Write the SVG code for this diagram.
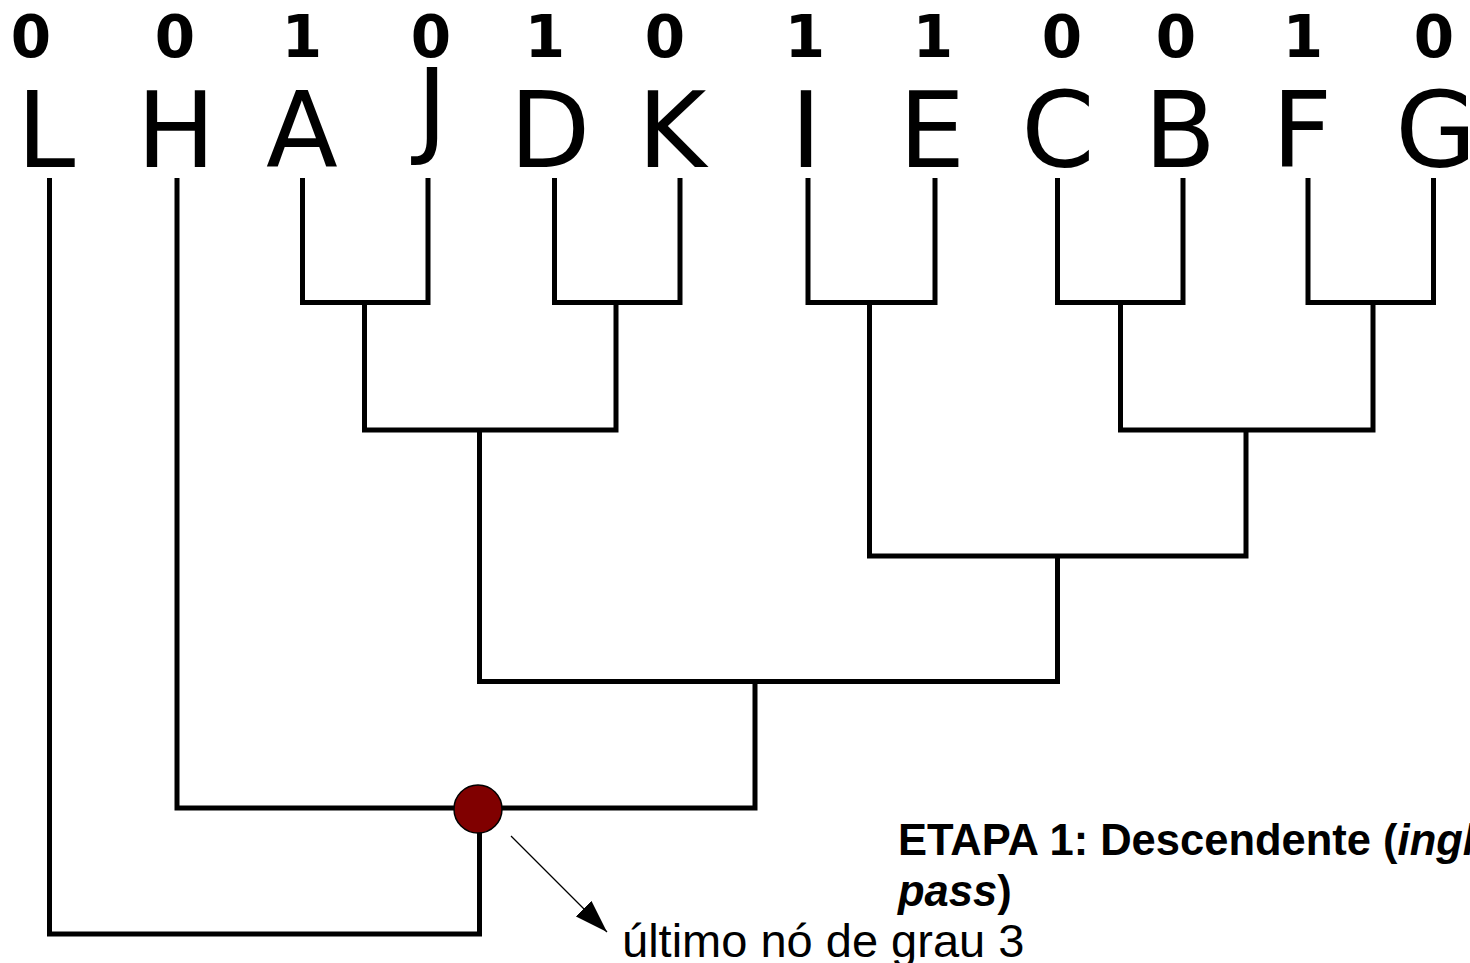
<svg xmlns="http://www.w3.org/2000/svg" width="1470" height="963" viewBox="0 0 1470 963">
<style>
.leaf{font-family:"DejaVu Sans",sans-serif;font-size:105px;fill:#000;text-anchor:middle}
.bit{font-family:"DejaVu Sans",sans-serif;font-weight:bold;font-size:58px;fill:#000;text-anchor:middle}
.edge{fill:none;stroke:#000;stroke-width:5;stroke-linejoin:miter;stroke-linecap:butt}
.note{font-family:"Liberation Sans",Arial,sans-serif;fill:#000}
</style>
<defs>
<marker id="ah" viewBox="0 0 33 22" refX="33" refY="11" markerWidth="33" markerHeight="22" markerUnits="userSpaceOnUse" orient="auto"><path d="M0,0 L33,11 L0,22 z" fill="#000"/></marker>
</defs>
<rect width="1470" height="963" fill="#fff"/>
<g id="bits">
<text class="bit" x="31" y="57">0</text>
<text class="bit" x="175" y="57">0</text>
<text class="bit" x="302" y="57">1</text>
<text class="bit" x="431" y="57">0</text>
<text class="bit" x="545" y="57">1</text>
<text class="bit" x="665" y="57">0</text>
<text class="bit" x="805" y="57">1</text>
<text class="bit" x="933" y="57">1</text>
<text class="bit" x="1062" y="57">0</text>
<text class="bit" x="1176" y="57">0</text>
<text class="bit" x="1303" y="57">1</text>
<text class="bit" x="1434" y="57">0</text>
</g>
<g id="leaf-L"><text class="leaf" x="46" y="167">L</text></g>
<g id="leaf-H"><text class="leaf" x="176" y="167">H</text></g>
<g id="leaf-A"><text class="leaf" x="302" y="167">A</text></g>
<g id="leaf-J"><text class="leaf" x="432" y="144">J</text></g>
<g id="leaf-D"><text class="leaf" x="550" y="167">D</text></g>
<g id="leaf-K"><text class="leaf" x="672" y="167">K</text></g>
<g id="leaf-I"><text class="leaf" x="806" y="167">I</text></g>
<g id="leaf-E"><text class="leaf" x="932" y="167">E</text></g>
<g id="leaf-C"><text class="leaf" x="1058" y="167">C</text></g>
<g id="leaf-B"><text class="leaf" x="1180" y="167">B</text></g>
<g id="leaf-F"><text class="leaf" x="1302" y="167">F</text></g>
<g id="leaf-G"><text class="leaf" x="1436" y="167">G</text></g>
<g id="connectors">
<path class="edge" d="M302.5 178 V302.5 H428 V178"/>
<path class="edge" d="M554.5 178 V302.5 H680 V178"/>
<path class="edge" d="M808 178 V302.5 H935 V178"/>
<path class="edge" d="M1057.5 178 V302.5 H1183 V178"/>
<path class="edge" d="M1308 178 V302.5 H1433.5 V178"/>
<path class="edge" d="M364.5 302.5 V430 H616 V302.5"/>
<path class="edge" d="M1120.5 302.5 V430 H1373 V302.5"/>
<path class="edge" d="M869.5 302.5 V556 H1246 V430"/>
<path class="edge" d="M479.5 430 V681.5 H1057.5 V556"/>
<path class="edge" d="M755 681.5 V808 H177 V178"/>
<path class="edge" d="M479.5 808 V934 H49.5 V178"/>
<line x1="511" y1="836" x2="607" y2="932" stroke="#000" stroke-width="1.3" marker-end="url(#ah)"/>
</g>
<g id="node-grau3"><circle cx="478" cy="809" r="24" fill="#800000" stroke="#000" stroke-width="1.5"/></g>
<g id="label-etapa">
<text class="note" x="898" y="855" font-size="43.5" font-weight="bold">ETAPA 1: Descendente (<tspan font-style="italic">ingl</tspan></text>
<text class="note" x="898" y="906" font-size="43.5" font-weight="bold"><tspan font-style="italic">pass</tspan>)</text>
</g>
<g id="label-ultimo"><text class="note" x="622" y="957" font-size="47">último nó de grau 3</text></g>
</svg>
